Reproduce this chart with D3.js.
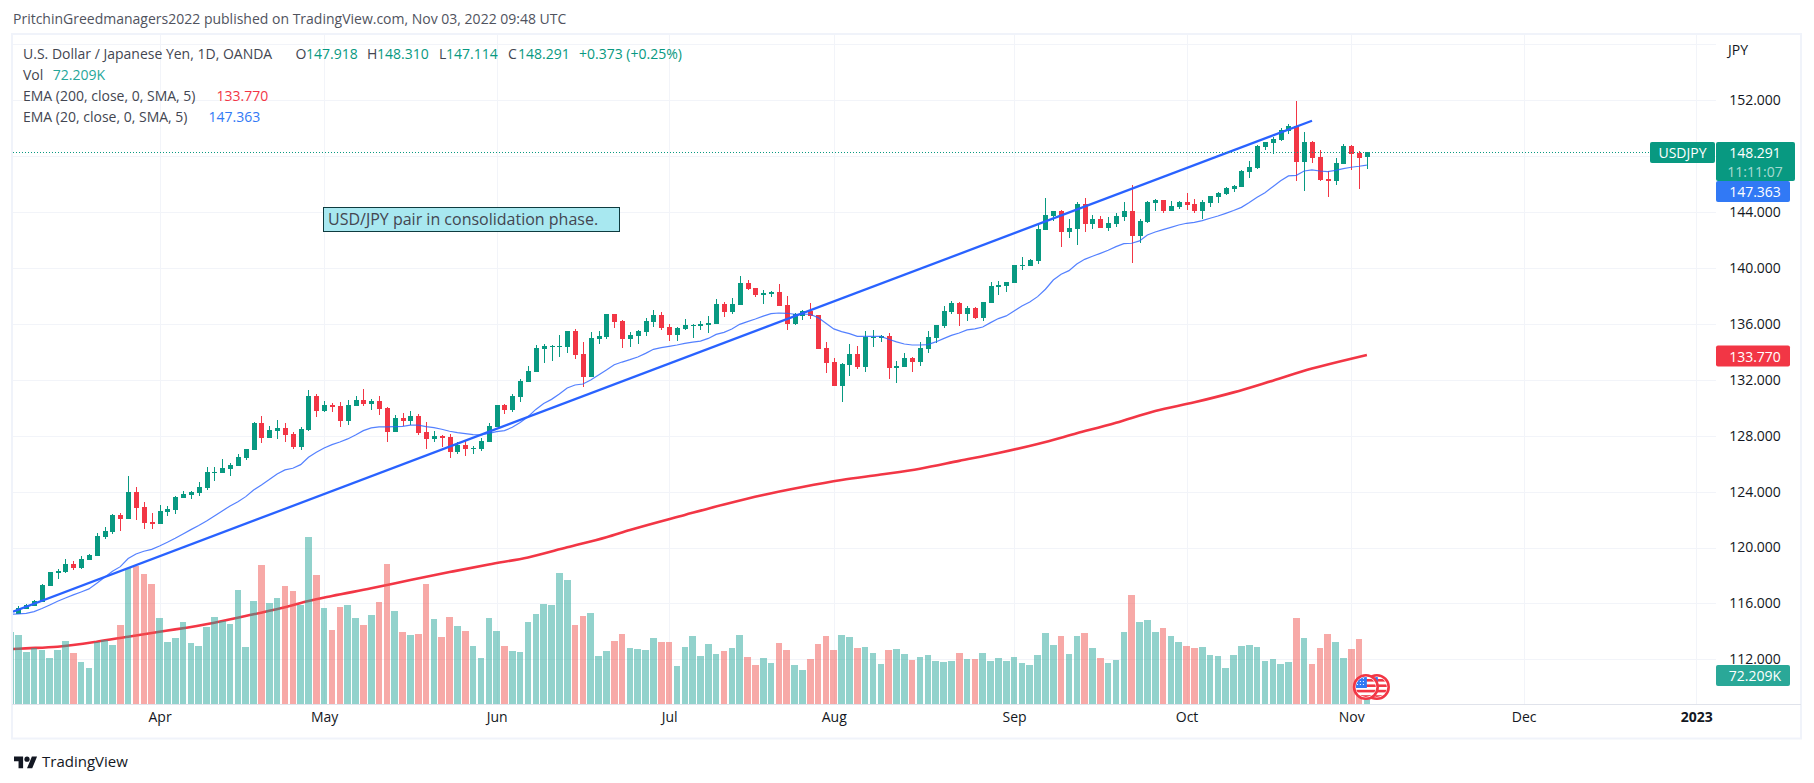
<!DOCTYPE html>
<html><head><meta charset="utf-8">
<script src="https://cdn.jsdelivr.net/npm/d3@7/dist/d3.min.js"></script>
<style>
html,body{margin:0;padding:0;background:#fff;overflow:hidden}
text{font-family:"Open Sans",Roboto,sans-serif}
</style></head><body><div id="chart"></div>
<script>
const opens=[115.27,115.63,115.84,116.13,117.27,118.18,118.25,118.82,118.54,119.11,
119.40,120.76,121.11,122.33,122.04,123.98,122.90,121.83,121.69,122.55,
122.69,123.55,123.76,123.90,124.26,125.34,125.34,125.62,125.84,126.41,
126.98,128.91,127.84,128.34,128.56,128.13,127.20,128.41,130.85,129.77,
130.20,130.13,129.06,130.13,130.56,130.27,130.49,129.99,128.27,129.27,
129.06,129.41,128.27,127.77,127.98,127.91,126.84,127.34,127.08,127.05,
127.55,128.63,130.20,129.84,130.77,131.84,132.56,134.20,134.35,134.35,
134.35,135.49,133.84,132.20,134.92,135.06,136.71,136.21,134.92,135.13,
135.42,136.13,136.63,135.78,135.20,135.63,135.87,135.85,135.94,135.99,
137.42,136.85,137.35,138.92,138.57,138.07,138.14,138.28,137.35,136.00,
136.57,136.93,136.64,134.28,133.28,131.56,133.06,133.85,132.92,134.99,
134.99,135.14,132.85,132.92,133.56,133.28,134.21,134.99,135.85,136.85,
137.50,136.71,137.14,136.42,137.50,138.64,138.71,138.93,140.15,140.15,
140.50,142.72,143.72,144.08,142.58,142.79,144.58,143.15,143.51,142.87,
143.15,143.65,144.08,142.29,143.30,144.65,144.87,144.08,144.37,144.73,
144.58,144.08,144.65,145.08,145.30,145.66,145.80,146.87,147.16,148.66,
148.95,149.16,149.81,150.16,147.59,149.02,147.95,146.37,146.23,147.45,
148.73,148.23,147.918];
const highs=[115.82,115.96,116.25,117.39,118.28,118.47,119.18,119.01,119.40,119.52,
121.02,121.47,122.40,122.47,125.12,124.33,123.26,122.47,123.05,122.97,
123.69,124.05,124.05,124.69,125.77,125.77,126.34,126.05,126.70,127.05,
128.98,129.41,128.70,129.13,128.91,128.27,128.63,131.27,130.99,130.49,
130.34,130.42,130.56,130.85,131.35,130.63,130.85,130.06,129.49,129.63,
129.77,129.56,128.98,128.34,128.05,128.13,127.55,127.63,127.27,127.84,
128.91,130.20,130.27,130.98,132.05,132.99,134.49,134.56,134.49,135.20,
135.49,135.63,134.70,135.42,135.49,136.71,136.71,136.28,135.42,135.56,
136.42,136.99,136.85,135.99,135.78,136.35,135.99,136.21,136.56,137.78,
137.56,137.85,139.43,139.14,138.57,138.42,138.35,138.86,138.00,136.78,
137.00,137.50,136.64,134.71,133.56,133.20,134.56,134.42,135.49,135.57,
135.21,135.35,133.35,133.92,133.63,134.71,135.49,135.92,137.28,137.64,
137.57,137.28,137.21,137.57,139.00,139.07,139.00,140.22,140.79,140.65,
143.08,145.01,144.08,144.15,143.51,144.73,145.01,143.80,143.72,143.65,
143.94,144.73,145.94,143.51,144.80,144.94,144.87,144.80,144.80,145.37,
144.94,144.87,145.16,145.44,145.80,145.94,147.02,147.66,148.80,149.02,
149.38,150.02,150.31,151.95,149.73,149.09,148.45,146.94,147.87,148.88,
148.80,148.38,148.310];
const lows=[115.22,115.58,115.79,116.08,117.25,117.75,118.20,118.42,118.49,119.09,
119.40,120.61,120.97,121.19,122.04,121.97,121.33,121.33,121.69,122.26,
122.40,123.55,123.48,123.69,124.12,124.76,125.34,125.12,125.84,126.27,
126.98,127.48,127.84,127.77,127.55,127.05,126.98,128.34,129.34,129.70,
129.70,128.63,128.77,130.13,130.13,129.84,129.49,127.55,128.27,128.70,
128.77,128.05,127.05,127.55,127.20,126.41,126.70,126.55,126.70,126.91,
127.55,128.63,129.55,129.69,130.41,131.84,132.56,133.20,133.34,133.63,
133.92,133.49,131.48,132.20,134.56,134.92,135.70,134.27,134.35,134.56,
135.13,135.78,135.56,134.77,134.77,135.56,134.99,135.56,135.35,135.99,
136.49,136.71,137.35,138.42,137.92,137.42,137.92,137.28,135.57,135.92,
136.28,136.35,134.21,132.49,131.56,130.41,132.27,132.78,132.56,134.35,
134.71,132.06,131.77,132.92,132.56,132.99,133.92,134.64,135.71,136.71,
135.85,136.21,136.35,136.21,137.50,138.07,138.28,138.93,139.86,140.15,
140.29,142.72,143.37,141.51,142.15,141.65,142.58,142.79,142.87,142.65,
142.94,143.37,140.36,141.79,143.22,144.08,143.94,144.08,144.23,144.15,
143.94,143.51,144.37,144.65,145.23,145.44,145.80,146.44,147.09,148.45,
148.16,149.09,149.59,146.23,145.51,147.52,146.23,145.08,145.94,147.45,
147.02,145.66,147.114];
const closes=[115.68,115.89,116.18,117.32,118.25,118.32,118.82,118.54,119.18,119.47,
120.83,121.19,122.33,122.04,123.98,122.83,121.76,121.69,122.62,122.76,
123.62,123.83,123.98,124.33,125.41,125.41,125.69,125.91,126.48,127.05,
128.91,127.84,128.41,128.56,128.05,127.20,128.48,130.85,129.77,130.20,
130.06,129.06,130.20,130.56,130.27,130.49,129.91,128.27,129.27,129.06,
129.41,128.20,127.77,127.98,127.84,126.84,127.34,127.05,127.15,127.63,
128.70,130.20,129.84,130.84,131.91,132.63,134.27,134.42,134.42,134.42,
135.49,133.77,132.20,134.99,135.13,136.71,136.13,134.92,135.20,135.49,
136.21,136.63,135.70,135.20,135.70,135.92,135.94,135.99,136.06,137.42,
136.85,137.42,138.92,138.49,138.07,138.21,138.28,137.28,136.00,136.71,
136.93,136.57,134.21,133.20,131.56,133.13,133.85,132.92,135.07,135.07,
135.14,132.85,132.97,133.56,133.28,134.28,135.07,135.92,136.93,137.50,
136.71,137.14,136.42,137.57,138.71,138.79,139.00,140.22,140.22,140.57,
142.79,143.80,144.08,142.58,142.87,144.58,143.15,143.51,142.87,143.22,
143.72,144.08,142.29,143.37,144.73,144.87,144.08,144.44,144.73,144.51,
144.08,144.73,145.16,145.37,145.73,145.87,146.94,147.23,148.73,149.02,
149.23,149.88,150.16,147.59,149.02,147.87,146.30,146.23,147.52,148.73,
148.16,147.87,148.291];
const volumeBefore=179;
const volumes=[172,129,139,134,115,134,157,127,105,90,
154,159,147,197,339,344,324,299,214,154,
164,204,152,144,192,217,207,199,284,142,
256,346,251,264,294,281,246,416,321,239,
184,242,246,214,197,222,254,349,232,179,
172,174,299,212,167,217,194,182,144,115,
214,182,144,132,129,204,224,249,246,326,
309,197,219,227,120,132,157,174,139,137,
134,164,154,154,95,142,169,120,149,125,
132,139,172,117,97,115,102,152,134,97,
85,112,149,169,134,172,167,139,142,127,
100,134,137,125,110,117,122,107,105,107,
127,113,113,128,108,115,108,118,103,98,
123,178,148,170,125,170,178,140,115,103,
110,180,272,205,210,180,188,170,155,145,
140,143,123,120,90,123,145,148,143,108,
113,100,105,215,165,100,140,175,155,115,
138,163,72.209];
const ema20Before=115.23;
const ema20=[115.25,115.29,115.41,115.63,115.89,116.15,116.39,116.61,116.82,117.04,
117.44,117.87,118.30,118.63,119.21,119.54,119.73,119.87,120.11,120.37,
120.66,120.97,121.28,121.57,121.90,122.26,122.62,122.97,123.28,123.64,
124.12,124.48,124.86,125.26,125.55,125.67,125.93,126.46,126.81,127.12,
127.36,127.55,127.77,128.05,128.36,128.56,128.63,128.63,128.65,128.67,
128.75,128.75,128.65,128.58,128.46,128.32,128.22,128.15,128.08,128.05,
128.17,128.29,128.36,128.60,128.95,129.36,129.88,130.31,130.60,130.98,
131.41,131.63,131.70,131.98,132.34,132.70,133.08,133.27,133.44,133.63,
133.89,134.18,134.30,134.39,134.49,134.61,134.70,134.77,134.96,135.25,
135.39,135.63,135.97,136.16,136.35,136.56,136.73,136.78,136.76,136.69,
136.69,136.69,136.45,136.04,135.64,135.45,135.30,135.11,135.11,135.11,
135.11,134.90,134.71,134.56,134.49,134.49,134.52,134.71,134.95,135.18,
135.35,135.57,135.64,135.78,136.09,136.38,136.57,136.93,137.28,137.57,
137.95,138.48,139.14,139.55,139.81,140.29,140.62,140.84,141.05,141.27,
141.53,141.74,141.77,141.94,142.36,142.58,142.75,142.91,143.08,143.20,
143.27,143.39,143.56,143.72,143.91,144.11,144.34,144.68,145.06,145.39,
145.82,146.25,146.59,146.63,146.94,147.02,146.94,146.90,146.99,147.11,
147.21,147.28,147.363];
const ema200Bars=[-1,0,5,10,14,18,20,25,30,34,37,40,45,50,55,60,65,70,75,78,85,90,95,100,105,110,115,120,125,130,135,140,145,150,155,160,165,170,172];
const ema200Vals=[112.72,112.76,112.90,113.26,113.62,113.97,114.14,114.62,115.22,115.72,116.17,116.53,117.08,117.67,118.24,118.79,119.29,120.01,120.73,121.25,122.33,123.08,123.76,124.33,124.83,125.22,125.64,126.20,126.76,127.41,128.17,128.93,129.77,130.39,131.10,131.94,132.80,133.51,133.77];
const trendBars=[-0.69,165];
const trendPrices=[115.41,150.54];
const gridPrices=[156,152,148,144,140,136,132,128,124,120,116,112];
const axisPrices=[152,144,140,136,132,128,124,120,116,112];
const timeTickBars=[18,39,61,83,104,127,149,170,192,214];
const timeTickLabels=["Apr","May","Jun","Jul","Aug","Sep","Oct","Nov","Dec","2023"];
const lastClose=148.291, ema200Last=133.770, ema20Last=147.363, volLast=72.209;
const headerText="PritchinGreedmanagers2022 published on TradingView.com, Nov 03, 2022 09:48 UTC";
const noteText="USD/JPY pair in consolidation phase.";

const W=1814,H=783;
const UP="#089981",DOWN="#f23645",BLUE="#2962ff",GRID="#f2f4f9",TXT="#131722";
const FONT='"Open Sans"';
const plot={l:13,r:1716,t:35,b:704};
const x=d3.scaleLinear().domain([0,172]).range([18.4,18.4+172*7.84]);
const y=d3.scaleLinear().domain([112,152]).range([659.3,100.3]);
const yVol=d3.scaleLinear().domain([0,420]).range([704,704-420/2.49]);

const svg=d3.select("#chart").append("svg").attr("width",W).attr("height",H).attr("viewBox",`0 0 ${W} ${H}`).style("display","block");
svg.append("rect").attr("width",W).attr("height",H).attr("fill","#fff");
svg.append("defs").append("clipPath").attr("id","pane").append("rect")
  .attr("x",plot.l).attr("y",plot.t).attr("width",plot.r-plot.l).attr("height",plot.b-plot.t);

// outer frame
svg.append("rect").attr("x",12).attr("y",34).attr("width",1789).attr("height",704.5)
  .attr("fill","none").attr("stroke","#f0f3fa").attr("stroke-width",2);

// header
svg.append("text").attr("x",13).attr("y",24).attr("font-size",14).attr("fill","#50535e").text(headerText);

// grid
const grid=svg.append("g").attr("shape-rendering","crispEdges").attr("stroke",GRID);
grid.selectAll(".h").data(gridPrices).join("line").attr("x1",plot.l).attr("x2",plot.r)
  .attr("y1",d=>Math.round(y(d))+.5).attr("y2",d=>Math.round(y(d))+.5);
grid.selectAll(".v").data(timeTickBars).join("line").attr("y1",plot.t).attr("y2",plot.b)
  .attr("x1",d=>Math.round(x(d))+.5).attr("x2",d=>Math.round(x(d))+.5);

const pane=svg.append("g").attr("clip-path","url(#pane)");

// EMA 200 (under the volume bars)
pane.append("path").attr("fill","none").attr("stroke",DOWN).attr("stroke-width",2.6)
  .attr("d",d3.line().curve(d3.curveMonotoneX).x(d=>x(d[0])).y(d=>y(d[1]))(d3.zip(ema200Bars,ema200Vals)));

// volume
const volData=[{i:-1,v:volumeBefore,up:true}].concat(volumes.map((v,i)=>({i,v,up:closes[i]>=opens[i]})));
pane.append("g").selectAll("rect").data(volData).join("rect")
  .attr("x",d=>Math.round(x(d.i)-3.3)).attr("width",d=>Math.round(x(d.i)+3.3)-Math.round(x(d.i)-3.3))
  .attr("y",d=>yVol(d.v)).attr("height",d=>704-yVol(d.v))
  .attr("fill",d=>d.up?"rgba(38,166,154,.5)":"rgba(239,83,80,.5)")
  .attr("shape-rendering","crispEdges");

// candles
const idx=d3.range(opens.length);
const candles=pane.append("g").attr("shape-rendering","crispEdges");
candles.selectAll(".w").data(idx).join("rect")
  .attr("x",i=>Math.round(x(i))).attr("width",1)
  .attr("y",i=>y(highs[i])).attr("height",i=>y(lows[i])-y(highs[i]))
  .attr("fill",i=>closes[i]>=opens[i]?UP:DOWN);
candles.selectAll(".b").data(idx).join("rect")
  .attr("x",i=>Math.round(x(i))-2).attr("width",5)
  .attr("y",i=>y(Math.max(opens[i],closes[i])))
  .attr("height",i=>Math.max(1,y(Math.min(opens[i],closes[i]))-y(Math.max(opens[i],closes[i]))))
  .attr("fill",i=>closes[i]>=opens[i]?UP:DOWN);

// EMA 20
pane.append("path").attr("fill","none").attr("stroke",BLUE).attr("stroke-opacity",.8).attr("stroke-width",1.2)
  .attr("d",d3.line().x(d=>x(d[0])).y(d=>y(d[1]))([[-1,ema20Before]].concat(ema20.map((v,i)=>[i,v]))));

// trend line
pane.append("path").attr("fill","none").attr("stroke",BLUE).attr("stroke-width",2.3)
  .attr("d",d3.line().x(d=>x(d[0])).y(d=>y(d[1]))(d3.zip(trendBars,trendPrices)));

// last price dotted
svg.append("line").attr("x1",plot.l).attr("x2",1650).attr("y1",Math.round(y(lastClose))+.5).attr("y2",Math.round(y(lastClose))+.5)
  .attr("stroke",UP).attr("stroke-dasharray","1 2");

// note
svg.append("rect").attr("x",323.5).attr("y",207.5).attr("width",296).attr("height",24)
  .attr("fill","#a8e8f0").attr("stroke","#0e3b3f").attr("stroke-width",1);
svg.append("text").attr("x",328).attr("y",225).attr("font-size",16).attr("fill","#434651").text(noteText);

// legend
function seg(yy,parts){parts.forEach(p=>svg.append("text").attr("x",p[0]).attr("y",yy).attr("font-size",14).attr("fill",p[2]||"#434651").text(p[1]));}
seg(58.5,[[23,"U.S. Dollar / Japanese Yen, 1D, OANDA"],[295.5,"O"],[306,opens[172].toFixed(3),UP],[367,"H"],[377,highs[172].toFixed(3),UP],[439,"L"],[446,lows[172].toFixed(3),UP],[508,"C"],[518,closes[172].toFixed(3),UP],[579,"+0.373 (+0.25%)",UP]]);
seg(79.5,[[23,"Vol"],[52.7,volLast.toFixed(3)+"K","#26a69a"]]);
seg(100.5,[[23,"EMA (200, close, 0, SMA, 5)"],[216.5,ema200Last.toFixed(3),DOWN]]);
seg(121.5,[[23,"EMA (20, close, 0, SMA, 5)"],[208.5,ema20Last.toFixed(3),"#3179f5"]]);

// price axis
const yAxis=d3.axisRight(y).tickValues(axisPrices).tickFormat(d=>d.toFixed(3)).tickSize(0).tickPadding(0);
const gy=svg.append("g").attr("transform","translate(1755,0)").call(yAxis);
gy.select(".domain").remove();
gy.selectAll("text").attr("text-anchor","middle").attr("font-size",14).attr("fill",TXT).attr("font-family",FONT);
svg.append("text").attr("x",1728).attr("y",55).attr("font-size",14).attr("fill",TXT).text("JPY");

// time axis
svg.append("line").attr("x1",12).attr("x2",1801).attr("y1",704.5).attr("y2",704.5).attr("stroke","#e0e3eb");
const xAxis=d3.axisBottom(x).tickValues(timeTickBars).tickFormat((d,i)=>timeTickLabels[i]).tickSize(0).tickPadding(0);
const gx=svg.append("g").attr("transform","translate(0,712)").call(xAxis);
gx.select(".domain").remove();
gx.selectAll("text").attr("font-size",14).attr("fill",TXT).attr("font-family",FONT)
  .attr("font-weight",d=>d===214?700:400);

// tags
function tag(x0,y0,w,h,col){svg.append("rect").attr("x",x0).attr("y",y0).attr("width",w).attr("height",h).attr("rx",2).attr("fill",col);}
function tagText(cx,cy,t,col){svg.append("text").attr("x",cx).attr("y",cy).attr("text-anchor","middle").attr("dominant-baseline","central").attr("font-size",14).attr("fill",col||"#fff").text(t);}
tag(1650,142,65,21,UP); tagText(1682.5,152.5,"USDJPY");
tag(1716,142,79,39,UP); tagText(1755,152.5,lastClose.toFixed(3)); tagText(1755,171,"11:11:07","rgba(255,255,255,.65)");
tag(1716,181,74,21,"#3179f5"); tagText(1755,191.5,ema20Last.toFixed(3));
tag(1716,345.5,74,21,DOWN); tagText(1755,356,ema200Last.toFixed(3));
tag(1716,665,74,21,"#2aa898"); tagText(1755,675.5,volLast.toFixed(3)+"K");

// event flags
function flag(cx,cy){
  const g=svg.append("g").attr("transform",`translate(${cx},${cy})`);
  const id="f"+Math.round(cx);
  g.append("clipPath").attr("id",id).append("circle").attr("r",10);
  g.append("circle").attr("r",11.8).attr("fill","#fff").attr("stroke",DOWN).attr("stroke-width",2.6);
  const c=g.append("g").attr("clip-path",`url(#${id})`);
  [-8,-2.6,2.8,8.2].forEach(s=>c.append("rect").attr("x",-11).attr("y",s).attr("width",22).attr("height",2.6).attr("fill",DOWN));
  c.append("rect").attr("x",-11).attr("y",-11).attr("width",12).attr("height",12).attr("fill","#3179f5");
  d3.range(-9,0,3).forEach(a=>d3.range(-9,0,3).forEach(b=>c.append("rect").attr("x",a).attr("y",b).attr("width",1).attr("height",1).attr("fill","#fff")));
}
flag(x(172)+10,687); flag(x(172)-1,687);

// footer logo
const logo=svg.append("g").attr("transform","translate(14,754) scale(.65)").attr("fill",TXT);
logo.append("path").attr("d","M14 22H7V11H0V4h14v18zM28 22h-8l7.5-18h8L28 22z");
logo.append("circle").attr("cx",20).attr("cy",8).attr("r",4);
svg.append("text").attr("x",42).attr("y",767).attr("font-size",15).attr("font-weight",500).attr("fill",TXT).text("TradingView");
</script></body></html>
